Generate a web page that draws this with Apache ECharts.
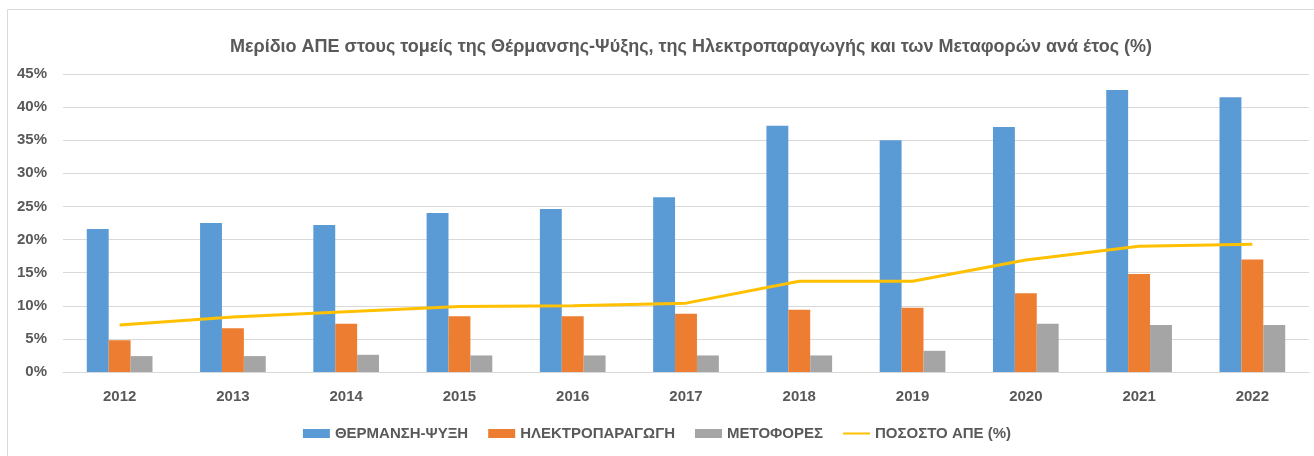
<!DOCTYPE html>
<html>
<head>
<meta charset="utf-8">
<script src="https://cdn.jsdelivr.net/npm/echarts@6/dist/echarts.min.js"></script>
<style>
  html, body { margin: 0; padding: 0; background: #fff; }
  #chart { width: 1314px; height: 456px; }
</style>
</head>
<body>
<div id="chart"></div>
<script>
const years = ['2012', '2013', '2014', '2015', '2016', '2017', '2018', '2019', '2020', '2021', '2022']
const heatingCooling = [21.6, 22.5, 22.2, 24.0, 24.6, 26.4, 37.2, 35.0, 37.0, 42.6, 41.5]
const electricity = [4.8, 6.6, 7.3, 8.4, 8.4, 8.8, 9.4, 9.7, 11.9, 14.8, 17.0]
const transport = [2.4, 2.4, 2.6, 2.5, 2.5, 2.5, 2.5, 3.2, 7.3, 7.1, 7.1]
const resShare = [7.1, 8.3, 9.1, 9.9, 10.0, 10.4, 13.7, 13.7, 16.9, 19.0, 19.3]

const FONT = 'Liberation Sans, Arial, sans-serif'
const TEXT = '#595959'
// thin stripe centred in a 27x9 box, for the line item of the legend
const LINE_ICON = 'path://M0,0 L0,0.01 L0.01,0.01 Z M0,3.5 L27,3.5 L27,5.5 L0,5.5 Z M27,9 L27,8.99 L26.99,8.99 Z'

const chart = echarts.init(document.getElementById('chart'))
chart.setOption({
  animation: false,
  backgroundColor: '#fff',
  graphic: [{
    type: 'rect',
    shape: { x: 7.5, y: 9.5, width: 1400, height: 500 },
    style: { fill: 'none', stroke: '#d9d9d9', lineWidth: 1 },
    silent: true,
  }],
  title: {
    text: 'Μερίδιο ΑΠΕ στους τομείς της Θέρμανσης-Ψύξης, της Ηλεκτροπαραγωγής και των Μεταφορών ανά έτος (%)',
    left: 225,
    top: 33,
    textStyle: { fontFamily: FONT, fontSize: 18, fontWeight: 'bold', color: TEXT },
  },
  legend: {
    bottom: 10,
    left: 'center',
    itemWidth: 27,
    itemHeight: 9,
    itemGap: 20,
    textStyle: { fontFamily: FONT, fontSize: 15, fontWeight: 'bold', color: TEXT },
    data: [
      { name: 'ΘΕΡΜΑΝΣΗ-ΨΥΞΗ', icon: 'rect' },
      { name: 'ΗΛΕΚΤΡΟΠΑΡΑΓΩΓΗ', icon: 'rect' },
      { name: 'ΜΕΤΟΦΟΡΕΣ', icon: 'rect' },
      { name: 'ΠΟΣΟΣΤΟ ΑΠΕ (%)', icon: LINE_ICON },
    ],
  },
  grid: { left: 63, right: 5, top: 74, bottom: 84 },
  xAxis: {
    type: 'category',
    data: years,
    axisLine: { lineStyle: { color: '#d9d9d9' } },
    axisTick: { show: false },
    axisLabel: { fontFamily: FONT, fontSize: 15, fontWeight: 'bold', color: TEXT, margin: 17 },
  },
  yAxis: {
    type: 'value',
    min: 0,
    max: 45,
    interval: 5,
    axisLine: { show: false },
    axisTick: { show: false },
    axisLabel: { fontFamily: FONT, fontSize: 15, fontWeight: 'bold', color: TEXT, margin: 16, formatter: '{value}%' },
    splitLine: { lineStyle: { color: '#d9d9d9', width: 1 } },
  },
  series: [
    {
      name: 'ΘΕΡΜΑΝΣΗ-ΨΥΞΗ', type: 'bar', data: heatingCooling,
      itemStyle: { color: '#5B9BD5' }, barGap: '0%', barCategoryGap: '42%',
    },
    {
      name: 'ΗΛΕΚΤΡΟΠΑΡΑΓΩΓΗ', type: 'bar', data: electricity,
      itemStyle: { color: '#ED7D31' },
    },
    {
      name: 'ΜΕΤΟΦΟΡΕΣ', type: 'bar', data: transport,
      itemStyle: { color: '#A5A5A5' },
    },
    {
      name: 'ΠΟΣΟΣΤΟ ΑΠΕ (%)', type: 'line', data: resShare,
      symbol: 'none', z: 5,
      lineStyle: { color: '#FFC000', width: 3 },
      itemStyle: { color: '#FFC000' },
    },
  ],
})
</script>
</body>
</html>
